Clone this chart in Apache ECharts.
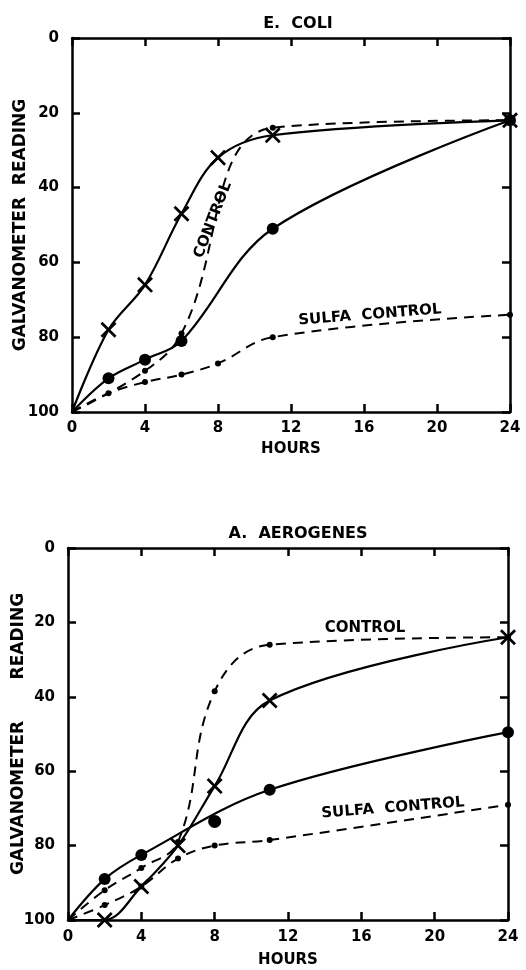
<!DOCTYPE html>
<html>
<head>
<meta charset="utf-8">
<script src="https://cdn.jsdelivr.net/npm/echarts@6/dist/echarts.min.js"></script>
<style>
  html, body { margin: 0; padding: 0; background: #fff; }
  #chart { width: 526px; height: 970px; }
</style>
</head>
<body>
<div id="chart"></div>
<script>
// axis ticks
var hourTicks = [0, 4, 8, 12, 16, 20, 24];
var readingTicks = [0, 20, 40, 60, 80, 100];

// E. coli panel
var ecoliCrossHours = [0, 2, 4, 6, 8, 11, 24];
var ecoliCrossVals = [100, 78, 66, 47, 32, 26, 22];
var ecoliDotHours = [0, 2, 4, 6, 11, 24];
var ecoliDotVals = [100, 91, 86, 81, 51, 22];
var ecoliControlHours = [0, 4, 6, 11, 24];
var ecoliControlVals = [100, 89, 79, 24, 22];
var ecoliSulfaHours = [0, 2, 4, 6, 8, 11, 24];
var ecoliSulfaVals = [100, 95, 92, 90, 87, 80, 74];

// A. aerogenes panel
var aeroCrossHours = [0, 2, 4, 6, 8, 11, 24];
var aeroCrossVals = [100, 100, 91, 80, 64, 41, 24];
var aeroDotHours = [0, 2, 4, 11, 24];
var aeroDotVals = [100, 89, 82.5, 65, 49.5];
var aeroDotOffHours = [8];
var aeroDotOffVals = [73.5];
var aeroControlHours = [0, 2, 4, 6, 8, 11, 24];
var aeroControlVals = [100, 92, 86, 79, 38.5, 26, 24];
var aeroSulfaHours = [0, 2, 4, 6, 8, 11, 24];
var aeroSulfaVals = [100, 96, 91, 83.5, 80, 78.5, 69];

var FONT = 'DejaVu Sans';
var crossPath = 'path://M0,1.2L1.2,0L5,3.8L8.8,0L10,1.2L6.2,5L10,8.8L8.8,10L5,6.2L1.2,10L0,8.8L3.8,5Z';

function pairs(xs, ys) {
	// first point is the origin, drawn without a marker
	return xs.map(function (x, i) {
		var item = { value: [x, ys[i]] };
		if (x === 0) item.symbol = 'none';
		return item;
	});
}

function axesFor(grid) {
	var xBase = {
		type: 'value', gridIndex: grid, min: hourTicks[0], max: hourTicks[hourTicks.length - 1], interval: 4,
		axisLine: { onZero: false, lineStyle: { color: '#000', width: 2.5 } },
		axisTick: { inside: true, length: 8, lineStyle: { color: '#000', width: 2.5 } },
		splitLine: { show: false }
	};
	var yBase = {
		type: 'value', gridIndex: grid, min: readingTicks[0], max: readingTicks[readingTicks.length - 1], interval: 20, inverse: true,
		axisLine: { onZero: false, lineStyle: { color: '#000', width: 2.5 } },
		axisTick: { inside: true, length: 8, lineStyle: { color: '#000', width: 2.5 } },
		splitLine: { show: false }
	};
	var x = [
		Object.assign({}, xBase, {
			position: 'bottom',
			name: 'HOURS', nameLocation: 'middle', nameGap: grid === 0 ? 30 : 33, nameMoveOverlap: false,
			nameTextStyle: { fontFamily: FONT, fontWeight: 'bold', fontSize: 15, color: '#000' },
			axisLabel: { fontFamily: FONT, fontWeight: 'bold', fontSize: 15, color: '#000', margin: grid === 0 ? 9 : 10 }
		}),
		Object.assign({}, xBase, { position: 'top', axisLabel: { show: false } })
	];
	var y = [
		Object.assign({}, yBase, {
			position: 'left',
			name: grid === 0 ? 'GALVANOMETER  READING' : 'GALVANOMETER       READING',
			nameLocation: 'middle', nameGap: grid === 0 ? 43 : 41, nameRotate: 90, nameMoveOverlap: false,
			nameTextStyle: { fontFamily: FONT, fontWeight: 'bold', fontSize: 17, color: '#000' },
			axisLabel: { fontFamily: FONT, fontWeight: 'bold', fontSize: 15, color: '#000', margin: 13 }
		}),
		Object.assign({}, yBase, { position: 'right', axisLabel: { show: false } })
	];
	return { x: x, y: y };
}

var a0 = axesFor(0), a1 = axesFor(1);

function solidLine(name, xi, xs, ys, symbol, size) {
	return {
		name: name, type: 'line', xAxisIndex: xi, yAxisIndex: xi,
		data: pairs(xs, ys), smooth: 0.35,
		symbol: symbol, symbolSize: size,
		lineStyle: { color: '#000', width: 2.2 },
		itemStyle: { color: '#000', opacity: 1 },
		z: 3
	};
}
function dashLine(name, xi, xs, ys) {
	return {
		name: name, type: 'line', xAxisIndex: xi, yAxisIndex: xi,
		data: pairs(xs, ys), smooth: 0.4,
		symbol: 'circle', symbolSize: 6,
		lineStyle: { color: '#000', width: 2, type: [10, 7] },
		itemStyle: { color: '#000', opacity: 1 },
		z: 2
	};
}

var labelStyle = { fontFamily: FONT, fontWeight: 'bold', fontSize: 15, fill: '#000' };

var option = {
	animation: false,
	backgroundColor: '#fff',
	title: [
		{ text: 'E.  COLI', left: 293, top: 11, textAlign: 'center',
		  textStyle: { fontFamily: FONT, fontWeight: 'bold', fontSize: 16, color: '#000' } },
		{ text: 'A.  AEROGENES', left: 293, top: 521, textAlign: 'center',
		  textStyle: { fontFamily: FONT, fontWeight: 'bold', fontSize: 16, color: '#000' } }
	],
	grid: [
		{ left: 72, top: 38, width: 438, height: 374, outerBoundsMode: 'none' },
		{ left: 68, top: 548, width: 440, height: 372, outerBoundsMode: 'none' }
	],
	xAxis: [a0.x[0], a0.x[1], a1.x[0], a1.x[1]],
	yAxis: [a0.y[0], a0.y[1], a1.y[0], a1.y[1]],
	series: [
		solidLine('E. coli X', 0, ecoliCrossHours, ecoliCrossVals, crossPath, 16),
		solidLine('E. coli dot', 0, ecoliDotHours, ecoliDotVals, 'circle', 12),
		dashLine('E. coli control', 0, ecoliControlHours, ecoliControlVals),
		dashLine('E. coli sulfa control', 0, ecoliSulfaHours, ecoliSulfaVals),
		solidLine('A. aerogenes X', 2, aeroCrossHours, aeroCrossVals, crossPath, 16),
		solidLine('A. aerogenes dot', 2, aeroDotHours, aeroDotVals, 'circle', 12),
		{
			name: 'A. aerogenes dot (off curve)', type: 'scatter', xAxisIndex: 2, yAxisIndex: 2,
			data: aeroDotOffHours.map(function (h, i) { return [h, aeroDotOffVals[i]]; }),
			symbol: 'circle', symbolSize: 13, itemStyle: { color: '#000', opacity: 1 }
		},
		dashLine('A. aerogenes control', 2, aeroControlHours, aeroControlVals),
		dashLine('A. aerogenes sulfa control', 2, aeroSulfaHours, aeroSulfaVals)
	],
	graphic: [
		{ type: 'text', x: 213, y: 220, rotation: 1.2,
		  style: Object.assign({ text: 'CONTROL', align: 'center', verticalAlign: 'middle' }, labelStyle) },
		{ type: 'text', x: 370, y: 315, rotation: 0.08,
		  style: Object.assign({ text: 'SULFA  CONTROL', align: 'center', verticalAlign: 'middle' }, labelStyle) },
		{ type: 'text', x: 365, y: 628,
		  style: Object.assign({ text: 'CONTROL', align: 'center', verticalAlign: 'middle' }, labelStyle) },
		{ type: 'text', x: 393, y: 808, rotation: 0.08,
		  style: Object.assign({ text: 'SULFA  CONTROL', align: 'center', verticalAlign: 'middle' }, labelStyle) }
	]
};

var myChart = echarts.init(document.getElementById('chart'));
myChart.setOption(option);
</script>
</body>
</html>
